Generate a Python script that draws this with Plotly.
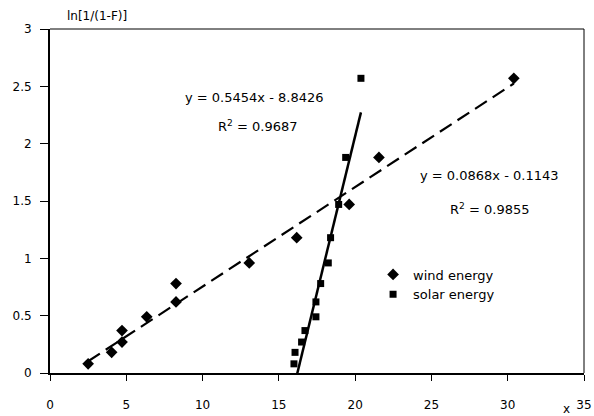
import plotly.graph_objects as go

# ---- data ----
wind_x = [2.5, 4.04, 4.72, 4.72, 6.34, 8.26, 8.26, 13.06, 16.17, 19.61, 21.56, 30.4]
wind_y = [0.08, 0.18, 0.27, 0.37, 0.49, 0.62, 0.78, 0.96, 1.18, 1.47, 1.88, 2.57]
solar_x = [15.99, 16.06, 16.49, 16.71, 17.43, 17.43, 17.74, 18.24, 18.39, 18.92, 19.38, 20.38]
solar_y = [0.08, 0.18, 0.27, 0.37, 0.49, 0.62, 0.78, 0.96, 1.18, 1.47, 1.88, 2.57]

# trend line coefficients printed on the chart
wind_fit = [0.0868, -0.1143]
solar_fit = [0.5454, -8.8426]

x_ticks = [0, 5, 10, 15, 20, 25, 30, 35]
y_ticks = [0, 0.5, 1, 1.5, 2, 2.5, 3]

FONT = "DejaVu Sans"

def fit_line(xs, coef):
    x0, x1 = min(xs), max(xs)
    return [x0, x1], [coef[0] * x0 + coef[1], coef[0] * x1 + coef[1]]

fig = go.Figure()

wx, wy = fit_line(wind_x, wind_fit)
fig.add_trace(go.Scatter(x=wx, y=wy, mode="lines", showlegend=False,
                         line=dict(color="black", width=2.2, dash="14px,7px"),
                         hoverinfo="skip"))
sx, sy = fit_line(solar_x, solar_fit)
fig.add_trace(go.Scatter(x=sx, y=sy, mode="lines", showlegend=False,
                         line=dict(color="black", width=2.5),
                         hoverinfo="skip"))

fig.add_trace(go.Scatter(x=wind_x, y=wind_y, mode="markers", name="wind energy",
                         marker=dict(symbol="diamond", size=9, color="black")))
fig.add_trace(go.Scatter(x=solar_x, y=solar_y, mode="markers", name="solar energy",
                         marker=dict(symbol="square", size=7, color="black")))

fig.update_layout(
    width=594, height=416,
    margin=dict(l=50, r=10, t=29, b=43, autoexpand=False),
    paper_bgcolor="white", plot_bgcolor="white",
    font=dict(family=FONT, size=13, color="black"),
    legend=dict(x=0.605, y=0.33, xanchor="left", yanchor="top",
                bgcolor="rgba(0,0,0,0)", font=dict(family=FONT, size=13),
                tracegroupgap=0),
    xaxis=dict(range=[0, 35], tickvals=x_ticks, ticktext=[str(v) for v in x_ticks],
               showgrid=False, zeroline=False, showline=True, linecolor="black",
               linewidth=2, ticks="outside", ticklen=6, tickwidth=1, tickcolor="black",
               ticklabelstandoff=14, tickfont=dict(size=12), fixedrange=True,
               automargin=False),
    yaxis=dict(range=[0, 3], tickvals=y_ticks, ticktext=[("%g" % v) for v in y_ticks],
               showgrid=False, zeroline=False, showline=True, linecolor="black",
               linewidth=2, ticks="outside", ticklen=8, tickwidth=1, tickcolor="black",
               ticklabelstandoff=6, tickfont=dict(size=12), fixedrange=True,
               automargin=False),
    shapes=[
        dict(type="line", xref="paper", yref="paper", x0=0, x1=1, y0=1, y1=1,
             line=dict(color="black", width=1)),
        dict(type="line", xref="paper", yref="paper", x0=1, x1=1, y0=0, y1=1,
             line=dict(color="black", width=1)),
    ],
    annotations=[
        dict(text="ln[1/(1-F)]", xref="paper", yref="paper", x=0.028, y=1.038,
             xanchor="left", yanchor="middle", showarrow=False, font=dict(size=12)),
        dict(text="x", xref="paper", yref="paper", x=0.968, y=-0.104,
             xanchor="center", yanchor="middle", showarrow=False, font=dict(size=12)),
        dict(text="y = 0.5454x - 8.8426", x=13.34, y=2.40, showarrow=False,
             xanchor="center", yanchor="middle"),
        dict(text="R<sup>2</sup> = 0.9687", x=13.6, y=2.15, showarrow=False,
             xanchor="center", yanchor="middle"),
        dict(text="y = 0.0868x - 0.1143", x=28.8, y=1.72, showarrow=False,
             xanchor="center", yanchor="middle"),
        dict(text="R<sup>2</sup> = 0.9855", x=28.87, y=1.43, showarrow=False,
             xanchor="center", yanchor="middle"),
    ],
)

fig.write_html(
    "out.html",
    config={"displayModeBar": False, "staticPlot": True},
    post_script="document.body.style.margin='0';document.body.style.padding='0';document.body.style.overflow='hidden';",
)
